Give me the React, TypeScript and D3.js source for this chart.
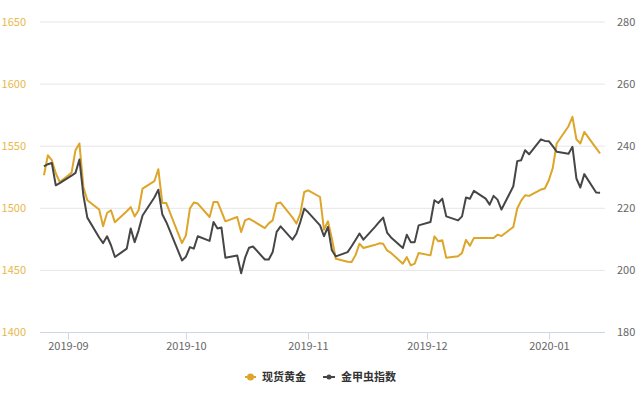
import React from "react";
import * as d3 from "d3";

// trading days
const dates = [
  "2019-08-26", "2019-08-27", "2019-08-28", "2019-08-29", "2019-08-30",
  "2019-09-02", "2019-09-03", "2019-09-04", "2019-09-05", "2019-09-06",
  "2019-09-09", "2019-09-10", "2019-09-11", "2019-09-12", "2019-09-13",
  "2019-09-16", "2019-09-17", "2019-09-18", "2019-09-19", "2019-09-20",
  "2019-09-23", "2019-09-24", "2019-09-25", "2019-09-26", "2019-09-27",
  "2019-09-30", "2019-10-01", "2019-10-02", "2019-10-03", "2019-10-04",
  "2019-10-07", "2019-10-08", "2019-10-09", "2019-10-10", "2019-10-11",
  "2019-10-14", "2019-10-15", "2019-10-16", "2019-10-17", "2019-10-18",
  "2019-10-21", "2019-10-22", "2019-10-23", "2019-10-24", "2019-10-25",
  "2019-10-28", "2019-10-29", "2019-10-30", "2019-10-31", "2019-11-01",
  "2019-11-04", "2019-11-05", "2019-11-06", "2019-11-07", "2019-11-08",
  "2019-11-11", "2019-11-12", "2019-11-13", "2019-11-14", "2019-11-15",
  "2019-11-18", "2019-11-19", "2019-11-20", "2019-11-21", "2019-11-22",
  "2019-11-25", "2019-11-26", "2019-11-27", "2019-11-28", "2019-11-29",
  "2019-12-02", "2019-12-03", "2019-12-04", "2019-12-05", "2019-12-06",
  "2019-12-09", "2019-12-10", "2019-12-11", "2019-12-12", "2019-12-13",
  "2019-12-16", "2019-12-17", "2019-12-18", "2019-12-19", "2019-12-20",
  "2019-12-23", "2019-12-24", "2019-12-25", "2019-12-26", "2019-12-27",
  "2019-12-30", "2019-12-31", "2020-01-01", "2020-01-02", "2020-01-03",
  "2020-01-06", "2020-01-07", "2020-01-08", "2020-01-09", "2020-01-10",
  "2020-01-13", "2020-01-14",
];

// 现货黄金 (left axis)
const goldValues = [
  1526.6, 1542.7, 1538.7, 1528.2, 1521.2,
  1528.5, 1546.8, 1552.2, 1517.2, 1506.5,
  1499.0, 1485.5, 1496.2, 1498.4, 1488.7,
  1497.6, 1501.0, 1493.5, 1498.4, 1515.9,
  1521.8, 1531.5, 1504.3, 1504.3, 1496.2,
  1472.0, 1478.2, 1499.8, 1504.6, 1503.8,
  1493.0, 1505.1, 1505.1, 1497.6, 1489.5,
  1493.0, 1480.9, 1490.3, 1491.7, 1489.9,
  1484.1, 1487.9, 1490.3, 1503.8, 1504.6,
  1492.7, 1487.7, 1495.7, 1513.1, 1514.5,
  1509.1, 1482.8, 1489.5, 1475.8, 1459.4,
  1456.9, 1456.7, 1462.3, 1471.5, 1468.0,
  1470.6, 1471.8, 1471.4, 1466.1, 1464.1,
  1455.4, 1460.7, 1454.0, 1455.4, 1464.0,
  1462.1, 1477.4, 1473.4, 1474.2, 1460.2,
  1461.3, 1464.1, 1474.6, 1469.8, 1476.0,
  1476.0, 1476.0, 1476.0, 1478.8, 1477.7,
  1484.9, 1499.8, 1506.2, 1510.5, 1510.0,
  1515.1, 1515.9, 1522.6, 1532.3, 1552.2,
  1566.1, 1573.6, 1555.6, 1552.2, 1561.5,
  1548.4, 1544.1,
];

// 金甲虫指数 (right axis)
const indexValues = [
  233.5, 234.2, 234.6, 227.4, 228.1,
  230.5, 231.4, 235.7, 224.2, 217.0,
  210.6, 208.8, 211.0, 208.1, 204.3,
  207.0, 213.5, 209.1, 212.9, 217.7,
  223.5, 226.0, 218.1, 215.6, 212.6,
  203.2, 204.4, 207.5, 207.0, 211.0,
  209.5, 215.6, 213.5, 213.8, 204.1,
  204.8, 199.1, 204.1, 207.3, 207.7,
  203.5, 203.5, 205.9, 212.4, 214.2,
  209.9, 211.8, 215.6, 219.9, 218.7,
  214.5, 211.0, 214.0, 206.5, 204.5,
  205.9, 207.8, 209.8, 211.9, 209.9,
  214.1, 215.6, 217.0, 212.2, 210.6,
  207.2, 211.5, 209.1, 209.1, 214.5,
  215.6, 222.6, 221.7, 223.1, 217.4,
  216.1, 217.4, 223.5, 223.1, 225.6,
  223.1, 221.2, 224.0, 222.8, 219.6,
  227.1, 235.2, 235.5, 238.7, 237.4,
  242.2, 241.7, 241.6, 240.0, 238.2,
  237.6, 239.8, 229.6, 226.7, 231.0,
  225.1, 225.0,
];

const leftTicks = [1400, 1450, 1500, 1550, 1600, 1650];
const rightTicks = [180, 200, 220, 240, 260, 280];
const monthTicks = ["2019-09-01", "2019-10-01", "2019-11-01", "2019-12-01", "2020-01-01"];
const seriesNames = ["现货黄金", "金甲虫指数"];

const GOLD = "#DDA52A";
const DARK = "#464646";
const FONT = "'Noto Sans CJK SC', 'Noto Sans', sans-serif";

const parse = d3.timeParse("%Y-%m-%d");

const App: React.FC = () => {
  const width = 640;
  const height = 400;
  const margin = { top: 22, right: 35, bottom: 67.5, left: 40 };

  const x = d3
    .scaleTime()
    .domain([new Date(2019, 7, 25), new Date(2020, 0, 15, 6)])
    .range([margin.left, width - margin.right]);
  const yL = d3.scaleLinear().domain([1400, 1650]).range([height - margin.bottom, margin.top]);
  const yR = d3.scaleLinear().domain([180, 280]).range([height - margin.bottom, margin.top]);

  const pts = dates.map((d, i) => ({ t: parse(d)!, g: goldValues[i], b: indexValues[i] }));

  const goldLine = d3
    .line<(typeof pts)[number]>()
    .x((d) => x(d.t))
    .y((d) => yL(d.g));
  const indexLine = d3
    .line<(typeof pts)[number]>()
    .x((d) => x(d.t))
    .y((d) => yR(d.b));

  const x0 = margin.left;
  const x1 = width - margin.right;
  const yBase = height - margin.bottom;

  return (
    <svg
      width={width}
      height={height}
      style={{ position: "fixed", left: 0, top: 0, background: "#fff" }}
      fontFamily={FONT}
    >
      {/* grid + left axis labels */}
      {leftTicks.map((t) => (
        <g key={t}>
          {t !== 1400 && (
            <line x1={x0} x2={x1} y1={yL(t)} y2={yL(t)} stroke="#E6E6E6" strokeWidth={1} />
          )}
          <text x={26} y={yL(t)} dy="0.35em" textAnchor="end" fontSize={11} fill="#E8B84C">
            {t}
          </text>
        </g>
      ))}
      {rightTicks.map((t) => (
        <text key={t} x={617} y={yR(t)} dy="0.35em" textAnchor="start" fontSize={11} fill="#666">
          {t}
        </text>
      ))}

      {/* x axis */}
      <line x1={x0} x2={x1} y1={yBase} y2={yBase} stroke="#CCD6E6" strokeWidth={1} />
      {monthTicks.map((m) => {
        const px = Math.round(x(parse(m)!)) + 0.5;
        return (
          <g key={m}>
            <line x1={px} x2={px} y1={yBase} y2={yBase + 7} stroke="#CCD6E6" />
            <text x={px} y={yBase + 14} dy="0.35em" textAnchor="middle" fontSize={11} fill="#666">
              {d3.timeFormat("%Y-%m")(parse(m)!)}
            </text>
          </g>
        );
      })}

      {/* series */}
      <path d={goldLine(pts) ?? ""} fill="none" stroke={GOLD} strokeWidth={2} strokeLinejoin="round" />
      <path d={indexLine(pts) ?? ""} fill="none" stroke={DARK} strokeWidth={2} strokeLinejoin="round" />

      {/* legend */}
      <g transform="translate(245,377)">
        <line x1={0} x2={11} y1={0} y2={0} stroke={GOLD} strokeWidth={2} />
        <circle cx={5.5} cy={0} r={3.5} fill={GOLD} />
        <text x={17} y={0} dy="0.35em" fontSize={11} fontWeight="bold" fill="#333">
          {seriesNames[0]}
        </text>
      </g>
      <g transform="translate(323,377)">
        <line x1={0} x2={12} y1={0} y2={0} stroke={DARK} strokeWidth={2} />
        <circle cx={6} cy={0} r={2.5} fill={DARK} />
        <text x={18} y={0} dy="0.35em" fontSize={11} fontWeight="bold" fill="#333">
          {seriesNames[1]}
        </text>
      </g>
    </svg>
  );
};

export default App;
